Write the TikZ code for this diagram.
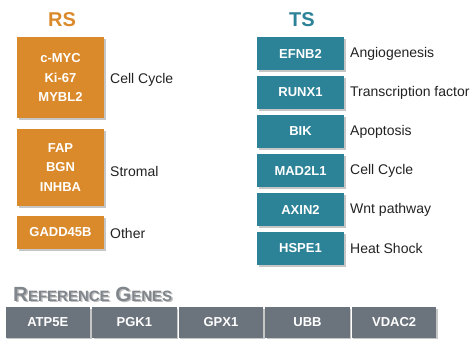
\documentclass[tikz,border=0pt]{standalone}
\usepackage{fontspec}
\setmainfont{Liberation Sans}
\usetikzlibrary{shadows}
\definecolor{rsorange}{HTML}{DA8A2B}
\definecolor{tsteal}{HTML}{2C8297}
\definecolor{refgray}{HTML}{6B737C}
\definecolor{reftitle}{HTML}{80868C}
\definecolor{labeltext}{HTML}{222222}
\tikzset{
  genebox/.style={rectangle, text=white, align=center, inner sep=0pt,
    minimum width=87pt, font=\bfseries\fontsize{13}{19.5}\selectfont,
    drop shadow={shadow xshift=1.5pt, shadow yshift=-1.5pt, opacity=0.45}},
  rsbox/.style={genebox, fill=rsorange},
  tsbox/.style={genebox, fill=tsteal, minimum height=33pt},
  refbox/.style={genebox, fill=refgray, minimum width=84.5pt, minimum height=31pt},
  grouplabel/.style={anchor=west, inner sep=0pt, text=labeltext,
    font=\fontsize{14}{16}\selectfont},
  heading/.style={font=\bfseries\fontsize{20}{23}\selectfont, inner sep=0pt}
}
\begin{document}
\begin{tikzpicture}[x=1pt,y=-1pt]
\useasboundingbox (0,0) rectangle (471,338);

% risk score genes
\node[heading, text=rsorange] (rstitle) at (62,20) {RS};
\node[rsbox, minimum height=81pt] (rs1) at (60.5,77.5) {c-MYC\\Ki-67\\MYBL2};
\node[rsbox, minimum height=77pt] (rs2) at (60.5,167.5) {FAP\\BGN\\INHBA};
\node[rsbox, minimum height=33pt] (rs3) at (60.5,232.5) {GADD45B};
\node[grouplabel] (rs1lab) at (110,80) {Cell Cycle};
\node[grouplabel] (rs2lab) at (110,171) {Stromal};
\node[grouplabel] (rs3lab) at (110,233) {Other};

% tumour suppressor genes
\node[heading, text=tsteal] (tstitle) at (302,20) {TS};
\foreach \gene/\group [count=\i from 0] in {EFNB2/Angiogenesis,
    RUNX1/Transcription factor, BIK/Apoptosis, MAD2L1/Cell Cycle,
    AXIN2/Wnt pathway, HSPE1/Heat Shock} {
  \node[tsbox] (ts\i) at (300.5,53.5+39*\i) {\gene};
  \node[grouplabel] (ts\i lab) at (350,53.5+39*\i) {\group};
}

% reference genes
\node[anchor=base west, inner sep=0pt, text=black!25,
  font=\bfseries\fontsize{20.5}{22}\selectfont] (refshadow) at (14.5,302.5)
  {R{\fontsize{15}{16}\selectfont EFERENCE} G{\fontsize{15}{16}\selectfont ENES}};
\node[anchor=base west, inner sep=0pt, text=reftitle,
  font=\bfseries\fontsize{20.5}{22}\selectfont] (reftitle) at (13,301)
  {R{\fontsize{15}{16}\selectfont EFERENCE} G{\fontsize{15}{16}\selectfont ENES}};
\foreach \gene [count=\i from 0] in {ATP5E, PGK1, GPX1, UBB, VDAC2}
  \node[refbox] (ref\i) at (47.75+86.6*\i,322.5) {\gene};
\end{tikzpicture}
\end{document}
